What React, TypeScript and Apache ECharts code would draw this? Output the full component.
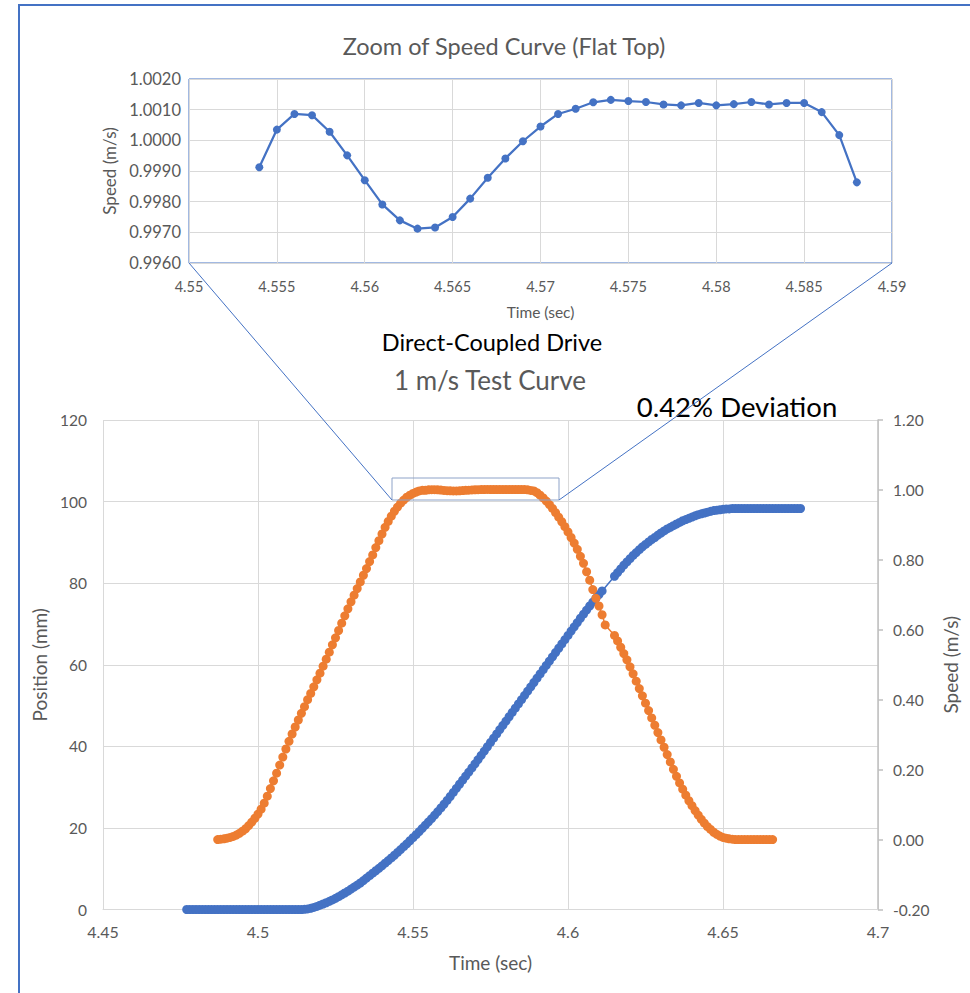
import React, { useEffect, useRef } from "react";
import * as echarts from "echarts";

// ---------- DATA ----------
const DT = 0.001; // sampling step (s)

// Position (mm), sampled every 1 ms starting at 4.477 s (null = missing sample)
const POS_T0 = 4.477;
const positionFlat = [
  0, 0, 0, 0, 0, 0, 0, 0, 0, 0, 0, 0, 0, 0, 0, 0, 0, 0, 0, 0,
  0, 0, 0, 0, 0, 0, 0, 0, 0, 0, 0, 0, 0, 0, 0, 0, 0, 0,
];
const positionRise = [
  0.05, 0.15, 0.3, 0.5, 0.75, 1.05, 1.35, 1.65, 2.0, 2.35,
  2.75, 3.15, 3.6, 4.05, 4.5, 5.0, 5.5, 6.0, 6.5, 7.1,
  7.7, 8.3, 8.9, 9.5, 10.1, 10.7, 11.35, 12.0, 12.65, 13.3,
  14.0, 14.7, 15.4, 16.1, 16.85, 17.6, 18.35, 19.1, 19.9, 20.7,
  21.5, 22.3, 23.15, 24.0, 24.9, 25.8, 26.75, 27.7, 28.7, 29.7,
  30.7, 31.7, 32.7, 33.7, 34.7, 35.7, 36.75, 37.8, 38.85, 39.9,
  40.95, 42.0, 43.05, 44.1, 45.15, 46.2, 47.25, 48.3, 49.35, 50.4,
  51.45, 52.5, 53.55, 54.6, 55.65, 56.7, 57.75, 58.8, 59.85, 60.9,
  61.95, 63.0, 64.05, 65.1, 66.15, 67.2, 68.25, 69.3, 70.35, 71.4,
  72.4, 73.4, 74.4, 75.35, 76.3, 77.2, 78.1,
];
const positionGap = [null, null, null];
const positionTop = [
  81.7, 82.6, 83.5, 84.4, 85.2, 86.0, 86.8, 87.5, 88.2, 88.9,
  89.5, 90.1, 90.7, 91.2, 91.8, 92.3, 92.8, 93.3, 93.7, 94.1,
  94.5, 94.9, 95.3, 95.6, 95.9, 96.2, 96.5, 96.8, 97.0, 97.2,
  97.4, 97.6, 97.8, 97.9, 98.0, 98.1, 98.2, 98.2,
  98.3, 98.3, 98.3, 98.3, 98.3, 98.3, 98.3, 98.3, 98.3, 98.3,
  98.3, 98.3, 98.3, 98.3, 98.3, 98.3, 98.3, 98.3, 98.3, 98.3,
  98.3, 98.3, 98.3,
];

// Speed (m/s), sampled every 1 ms starting at 4.487 s
const SPEED_T0 = 4.487;
const speedRampUp = [
  0.0, 0.001, 0.002, 0.004, 0.006, 0.009, 0.013, 0.018, 0.024, 0.031,
  0.04, 0.05, 0.061, 0.073, 0.087, 0.104, 0.124, 0.146, 0.168, 0.19,
  0.213, 0.236, 0.259, 0.281, 0.302, 0.322, 0.342, 0.361, 0.38, 0.4,
  0.418, 0.437, 0.457, 0.476, 0.496, 0.516, 0.536, 0.557, 0.577, 0.598,
  0.619, 0.64, 0.66, 0.68, 0.699, 0.718, 0.737, 0.756, 0.775, 0.795,
  0.814, 0.835, 0.855, 0.874, 0.893, 0.91, 0.925, 0.939, 0.951, 0.962,
  0.971, 0.979, 0.985, 0.99, 0.994, 0.997, 0.999,
];
// Flat top (shown in the zoom inset), 4.554 s .. 4.588 s
const ZOOM_T0 = 4.554;
const zoomSpeed = [
  0.99912, 1.00035, 1.00086, 1.00082, 1.00028, 0.99951, 0.9987, 0.99791, 0.99739, 0.99712,
  0.99716, 0.9975, 0.9981, 0.99878, 0.99941, 0.99997, 1.00045, 1.00086, 1.00103, 1.00124,
  1.00132, 1.00128, 1.00125, 1.00117, 1.00114, 1.00122, 1.00114, 1.00118, 1.00125, 1.00117,
  1.00122, 1.00122, 1.00092, 1.00017, 0.99863,
];
const speedRampDown = [
  0.997, 0.992, 0.985, 0.977, 0.968, 0.958, 0.947, 0.935, 0.922, 0.909,
  0.895, 0.88, 0.864, 0.848, 0.83, 0.81, 0.79, 0.766, 0.742, 0.715,
  0.69, 0.668, 0.643, 0.614, null, null,
  0.584, 0.568, 0.55, 0.532, 0.514, 0.494, 0.474, 0.453, 0.432, 0.411,
  0.39, 0.369, 0.348, 0.327, 0.306, 0.285, 0.264, 0.243, 0.222, 0.201,
  0.181, 0.162, 0.144, 0.127, 0.111, 0.097, 0.083, 0.07, 0.058, 0.047,
  0.037, 0.029, 0.021, 0.015, 0.01, 0.006, 0.004, 0.002, 0.001,
  0, 0, 0, 0, 0, 0, 0, 0, 0, 0, 0, 0, 0,
];

// Axis ranges / ticks
const mainTimeAxis = { min: 4.45, max: 4.7, interval: 0.05 };
const positionAxis = { min: 0, max: 120, interval: 20 };
const speedAxis = { min: -0.2, max: 1.2, interval: 0.2 };
const zoomTimeAxis = { min: 4.55, max: 4.59, interval: 0.005 };
const zoomSpeedAxis = { min: 0.996, max: 1.002, interval: 0.001 };

// ---------- HELPERS ----------
const toPairs = (t0: number, vals: (number | null)[]) =>
  vals
    .map((v, i) => (v == null ? null : [+(t0 + i * DT).toFixed(3), v]))
    .filter((p) => p !== null) as number[][];

const positionData = toPairs(POS_T0, [
  ...positionFlat,
  ...positionRise,
  ...positionGap,
  ...positionTop,
]);
const speedData = toPairs(SPEED_T0, [...speedRampUp, ...zoomSpeed, ...speedRampDown]);
const zoomData = toPairs(ZOOM_T0, zoomSpeed);

const FONT = "Lato";
const GRAY = "#595959";
const GRID = "#d9d9d9";
const BLUE = "#4472C4";
const ORANGE = "#ED7D31";

const trim = (v: number) => String(parseFloat(v.toFixed(4)));

export default function App() {
  const ref = useRef<HTMLDivElement>(null);
  useEffect(() => {
    document.body.style.margin = "0";
    const chart = echarts.init(ref.current!, null, { renderer: "svg" });
    const label = (size: number, fmt: (v: number) => string, margin: number) => ({
      color: GRAY,
      fontSize: size,
      fontFamily: FONT,
      margin,
      formatter: fmt,
    });
    const nameStyle = (size: number) => ({
      color: GRAY,
      fontSize: size,
      fontFamily: FONT,
      fontWeight: "normal",
    });
    const text = (x: number, y: number, s: string, size: number, fill: string) => ({
      type: "text",
      x,
      y,
      z: 90,
      style: {
        text: s,
        align: "center",
        verticalAlign: "middle",
        fontSize: size,
        fontFamily: FONT,
        fontWeight: "normal",
        fill,
      },
    });
    const option: any = {
      animation: false,
      backgroundColor: "#fff",
      grid: [
        {
          left: 189,
          top: 79,
          width: 703,
          height: 184,
          show: true,
          borderColor: BLUE,
          borderWidth: 1,
          backgroundColor: "transparent",
        },
        { left: 103, top: 420, width: 775, height: 489.5 },
      ],
      xAxis: [
        {
          gridIndex: 0,
          type: "value",
          ...zoomTimeAxis,
          name: "Time (sec)",
          nameLocation: "middle",
          nameGap: 41,
          nameTextStyle: nameStyle(15.5),
          axisLine: { show: false },
          axisTick: { show: false },
          splitLine: { show: true, lineStyle: { color: GRID, width: 1 } },
          axisLabel: label(14.5, (v) => trim(v), 16),
        },
        {
          gridIndex: 1,
          type: "value",
          ...mainTimeAxis,
          name: "Time (sec)",
          nameLocation: "middle",
          nameGap: 43,
          nameTextStyle: nameStyle(19),
          axisLine: { show: true, lineStyle: { color: GRID, width: 1 } },
          axisTick: { show: false },
          splitLine: { show: true, lineStyle: { color: GRID, width: 1 } },
          axisLabel: label(16, (v) => trim(v), 14),
        },
      ],
      yAxis: [
        {
          gridIndex: 0,
          type: "value",
          ...zoomSpeedAxis,
          name: "Speed (m/s)",
          nameLocation: "middle",
          nameGap: 69,
          nameTextStyle: nameStyle(17),
          axisLine: { show: false },
          axisTick: { show: false },
          splitLine: { show: true, lineStyle: { color: GRID, width: 1 } },
          axisLabel: label(16.5, (v) => v.toFixed(4), 8),
        },
        {
          gridIndex: 1,
          type: "value",
          position: "left",
          ...positionAxis,
          name: "Position (mm)",
          nameLocation: "middle",
          nameGap: 49,
          nameTextStyle: nameStyle(19),
          axisLine: { show: false },
          axisTick: { show: false },
          splitLine: { show: true, lineStyle: { color: GRID, width: 1 } },
          axisLabel: label(15.5, (v) => trim(v), 16),
        },
        {
          gridIndex: 1,
          type: "value",
          position: "right",
          ...speedAxis,
          name: "Speed (m/s)",
          nameLocation: "middle",
          nameGap: 63,
          nameTextStyle: nameStyle(19),
          axisLine: { show: true, lineStyle: { color: "#bfbfbf", width: 1.5 } },
          axisTick: { show: true, length: 5, lineStyle: { color: "#bfbfbf", width: 1.5 } },
          splitLine: { show: false },
          axisLabel: label(15.5, (v) => v.toFixed(2), 15),
        },
      ],
      series: [
        {
          name: "Zoom speed",
          type: "line",
          xAxisIndex: 0,
          yAxisIndex: 0,
          data: zoomData,
          symbol: "circle",
          symbolSize: 8,
          lineStyle: { color: BLUE, width: 2.25 },
          itemStyle: { color: BLUE },
        },
        {
          name: "Position",
          type: "line",
          xAxisIndex: 1,
          yAxisIndex: 1,
          data: positionData,
          symbol: "circle",
          symbolSize: 9,
          lineStyle: { color: BLUE, width: 1.5 },
          itemStyle: { color: BLUE },
        },
        {
          name: "Speed",
          type: "line",
          xAxisIndex: 1,
          yAxisIndex: 2,
          data: speedData,
          symbol: "circle",
          symbolSize: 9,
          lineStyle: { color: ORANGE, width: 1.5 },
          itemStyle: { color: ORANGE },
        },
      ],
      graphic: [
        {
          type: "rect",
          z: 100,
          shape: { x: 19, y: 5, width: 1000, height: 1000 },
          style: { fill: "none", stroke: BLUE, lineWidth: 2 },
        },
        {
          type: "rect",
          z: 100,
          shape: { x: 392, y: 478, width: 167, height: 22 },
          style: { fill: "none", stroke: "#8EA3C8", lineWidth: 1 },
        },
        {
          type: "line",
          z: 100,
          shape: { x1: 189, y1: 263, x2: 392, y2: 500 },
          style: { stroke: BLUE, lineWidth: 1 },
        },
        {
          type: "line",
          z: 100,
          shape: { x1: 892, y1: 263, x2: 559, y2: 500 },
          style: { stroke: BLUE, lineWidth: 1 },
        },
        text(504, 46, "Zoom of Speed Curve (Flat Top)", 23.5, GRAY),
        text(492, 342, "Direct-Coupled Drive", 23.5, "#000"),
        text(490, 380, "1 m/s Test Curve", 26, GRAY),
        text(737, 406, "0.42% Deviation", 27.5, "#000"),
      ],
    };
    chart.setOption(option);
    return () => chart.dispose();
  }, []);
  return <div ref={ref} style={{ width: 970, height: 993 }} />;
}
